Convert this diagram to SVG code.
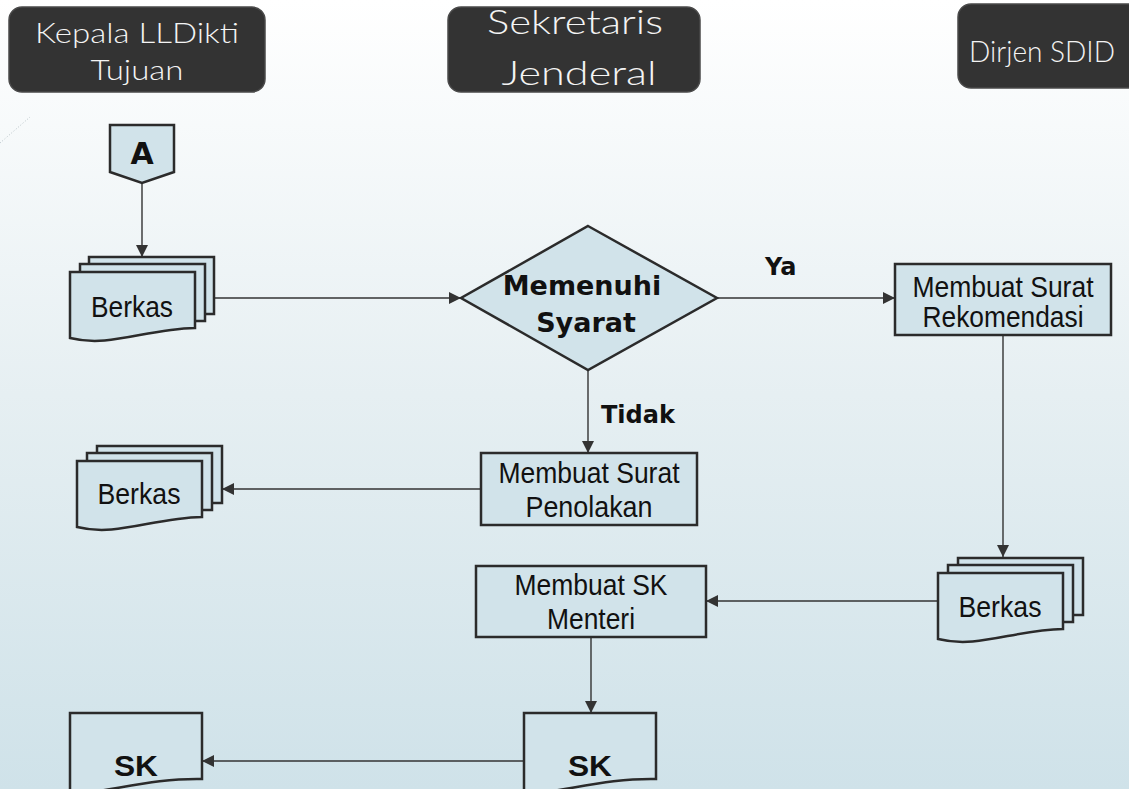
<svg xmlns="http://www.w3.org/2000/svg" width="1129" height="789" viewBox="0 0 1129 789">
<defs>
<linearGradient id="bg" x1="0" y1="0" x2="0" y2="1">
<stop offset="0" stop-color="#ffffff"/>
<stop offset="0.5" stop-color="#e6eff2"/>
<stop offset="1" stop-color="#cfe2e9"/>
</linearGradient>
<marker id="arr" markerUnits="userSpaceOnUse" markerWidth="12" markerHeight="12" refX="12" refY="6" orient="auto">
<path d="M0,0 L12,6 L0,12 z" fill="#333"/>
</marker>
<path id="sheet" d="M0,0 H125 V57 H0 z"/>
<path id="doc" d="M0,0 H125 V56 C75,57 40,76 0,66 z"/>
</defs>
<style>
.hdr{fill:#333333;stroke:#4a4a4a;stroke-width:1.5}
.htxt{font-family:"Lato","DejaVu Sans",sans-serif;font-weight:300;fill:#f4f4f4;text-anchor:middle}
.shape{fill:#d1e3ea;stroke:#2b2b2b;stroke-width:2.5}
.btxt{font-family:"Liberation Sans",Arial,sans-serif;font-size:30px;fill:#111;text-anchor:middle}
.dtxt{font-family:"DejaVu Sans",Verdana,sans-serif;font-weight:bold;fill:#111;text-anchor:middle}
.lbl{font-family:"DejaVu Sans",Verdana,sans-serif;font-weight:bold;font-size:24px;fill:#111}
.conn{fill:none;stroke:#333;stroke-width:1.4}
</style>
<rect width="1129" height="789" fill="url(#bg)"/>
<line x1="0" y1="143" x2="30" y2="117" stroke="#b8c4c8" stroke-width="1" stroke-dasharray="1 2"/>

<g id="lane-kepala">
<rect class="hdr" x="9" y="7" width="256" height="85" rx="13"/>
<text class="htxt" x="137" y="43" font-size="27" textLength="204" lengthAdjust="spacingAndGlyphs">Kepala LLDikti</text>
<text class="htxt" x="137" y="80" font-size="27" textLength="93" lengthAdjust="spacingAndGlyphs">Tujuan</text>
</g>
<g id="lane-sekretaris">
<rect class="hdr" x="448" y="7" width="252" height="85" rx="13"/>
<text class="htxt" x="575" y="34" font-size="34" textLength="176" lengthAdjust="spacingAndGlyphs">Sekretaris</text>
<text class="htxt" x="579" y="85" font-size="34" textLength="155" lengthAdjust="spacingAndGlyphs">Jenderal</text>
</g>
<g id="lane-dirjen">
<rect class="hdr" x="958" y="4" width="185" height="84" rx="13"/>
<text class="htxt" x="1042" y="62" font-size="30" textLength="146" lengthAdjust="spacingAndGlyphs">Dirjen SDID</text>
</g>

<g id="connectors">
<path class="conn" d="M142,183 V257" marker-end="url(#arr)"/>
<path class="conn" d="M214,298 H461" marker-end="url(#arr)"/>
<path class="conn" d="M717,298 H895" marker-end="url(#arr)"/>
<path class="conn" d="M588,370 V453" marker-end="url(#arr)"/>
<path class="conn" d="M481,489 H222" marker-end="url(#arr)"/>
<path class="conn" d="M1003,335 V557" marker-end="url(#arr)"/>
<path class="conn" d="M938,601 H706" marker-end="url(#arr)"/>
<path class="conn" d="M591,637 V713" marker-end="url(#arr)"/>
<path class="conn" d="M524,761 H202" marker-end="url(#arr)"/>
<text class="lbl" x="765" y="275">Ya</text>
<text class="lbl" x="601" y="423">Tidak</text>
</g>

<g id="node-a">
<path class="shape" d="M110,125 H174 V172 L142,183 L110,172 z"/>
<text class="dtxt" x="142" y="164" font-size="30">A</text>
</g>

<g id="node-berkas1">
<use href="#sheet" class="shape" x="89" y="257"/>
<use href="#sheet" class="shape" x="80" y="264"/>
<use href="#doc" class="shape" x="70" y="272"/>
<text class="btxt" x="132" y="317" textLength="82" lengthAdjust="spacingAndGlyphs">Berkas</text>
</g>

<g id="node-syarat">
<path class="shape" d="M588,226 L717,298 L588,370 L461,298 z"/>
<text class="dtxt" x="582" y="295" font-size="27">Memenuhi</text>
<text class="dtxt" x="586" y="332" font-size="27">Syarat</text>
</g>

<g id="node-rekomendasi">
<rect class="shape" x="895" y="264" width="216" height="71"/>
<text class="btxt" x="1003" y="297" font-size="27" textLength="181" lengthAdjust="spacingAndGlyphs">Membuat Surat</text>
<text class="btxt" x="1003" y="327" font-size="27" textLength="161" lengthAdjust="spacingAndGlyphs">Rekomendasi</text>
</g>

<g id="node-penolakan">
<rect class="shape" x="481" y="453" width="216" height="72"/>
<text class="btxt" x="589" y="483" textLength="181" lengthAdjust="spacingAndGlyphs">Membuat Surat</text>
<text class="btxt" x="589" y="517" textLength="127" lengthAdjust="spacingAndGlyphs">Penolakan</text>
</g>

<g id="node-berkas2">
<use href="#sheet" class="shape" x="97" y="446"/>
<use href="#sheet" class="shape" x="87" y="453"/>
<use href="#doc" class="shape" x="77" y="461"/>
<text class="btxt" x="139" y="504" textLength="83" lengthAdjust="spacingAndGlyphs">Berkas</text>
</g>

<g id="node-berkas3">
<use href="#sheet" class="shape" x="958" y="558"/>
<use href="#sheet" class="shape" x="948" y="565"/>
<use href="#doc" class="shape" x="938" y="573"/>
<text class="btxt" x="1000" y="617" textLength="83" lengthAdjust="spacingAndGlyphs">Berkas</text>
</g>

<g id="node-skmenteri">
<rect class="shape" x="476" y="566" width="230" height="71"/>
<text class="btxt" x="591" y="595" textLength="153" lengthAdjust="spacingAndGlyphs">Membuat SK</text>
<text class="btxt" x="591" y="629" textLength="88" lengthAdjust="spacingAndGlyphs">Menteri</text>
</g>

<g id="node-sk2">
<path class="shape" d="M524,713 H656 V779 C610,778 570,790 524,795 z"/>
<text class="btxt" x="590" y="776" font-size="34" font-weight="bold" textLength="44" lengthAdjust="spacingAndGlyphs">SK</text>
</g>

<g id="node-sk1">
<path class="shape" d="M70,713 H202 V779 C156,778 116,790 70,795 z"/>
<text class="btxt" x="136" y="776" font-size="34" font-weight="bold" textLength="44" lengthAdjust="spacingAndGlyphs">SK</text>
</g>
</svg>
